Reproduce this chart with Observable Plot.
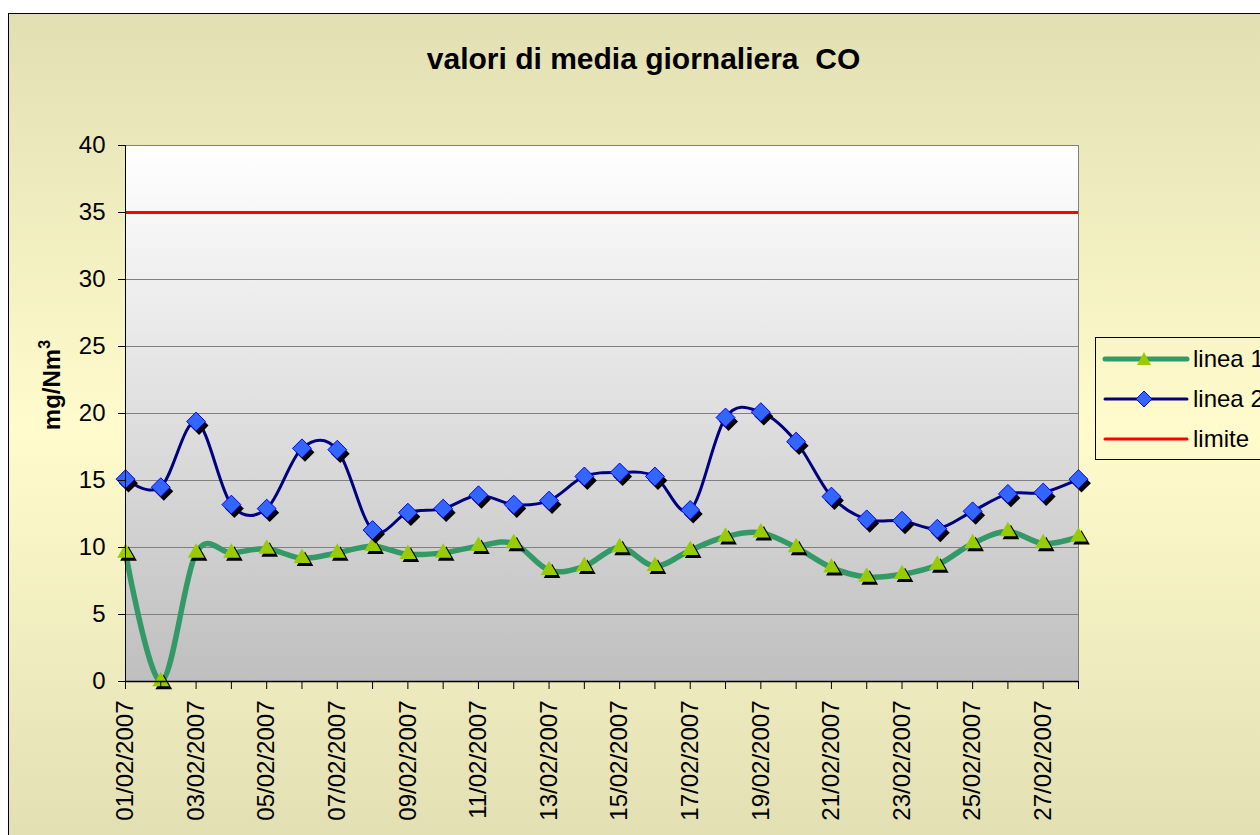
<!DOCTYPE html>
<html>
<head>
<meta charset="utf-8">
<script src="https://cdn.jsdelivr.net/npm/d3@7"></script>
<script src="https://cdn.jsdelivr.net/npm/@observablehq/plot@0.6"></script>
<style>
  html, body { margin: 0; padding: 0; background: #ffffff; overflow: hidden; }
  body { font-family: "Liberation Sans", Arial, sans-serif; }
  #wrap { position: relative; width: 1260px; height: 835px; overflow: hidden; }
  #bg { position: absolute; left: 8px; top: 13px; width: 1300px; height: 830px;
        border: 1px solid #000;
        background: linear-gradient(to bottom, #e2dfb3 0%, #fffbcc 50%, #e2dfb3 100%); }
  #gl { position: absolute; left: 32px; top: -25px; font-size: 24px; line-height: 1; }
  #title { position: absolute; left: 0; top: 44px; width: 1287px; text-align: center;
           font-weight: bold; font-size: 30px; line-height: 1; white-space: pre; }
  #ylabel { position: absolute; left: 52px; top: 385px; font-weight: bold; font-size: 24px;
            line-height: 1; white-space: nowrap; transform: translate(-50%, -50%) rotate(-90deg); }
  #ylabel sup { font-size: 16px; vertical-align: 10px; line-height: 0; }
  #chart { position: absolute; left: 0; top: 0; }
  #legend { position: absolute; left: 1095px; top: 337px; width: 200px; height: 120px;
            border: 1px solid #000; padding-top: 1px; }
  .row { display: flex; align-items: center; height: 40px; font-size: 24px; white-space: nowrap; }
  .row svg { display: block; margin-left: 6px; margin-right: 3px; }
</style>
</head>
<body>
<div id="wrap">
  <div id="bg"></div>
  <div id="gl">g</div>
  <div id="title">valori di media giornaliera  CO</div>
  <div id="ylabel">mg/Nm<sup>3</sup></div>
  <div id="chart"></div>
  <div id="legend"></div>
</div>
<script>
// ---- data ----
const dates = ["01/02/2007","02/02/2007","03/02/2007","04/02/2007","05/02/2007","06/02/2007","07/02/2007",
  "08/02/2007","09/02/2007","10/02/2007","11/02/2007","12/02/2007","13/02/2007","14/02/2007",
  "15/02/2007","16/02/2007","17/02/2007","18/02/2007","19/02/2007","20/02/2007","21/02/2007",
  "22/02/2007","23/02/2007","24/02/2007","25/02/2007","26/02/2007","27/02/2007","28/02/2007"];
const linea1 = [9.6,0.0,9.6,9.6,9.9,9.2,9.6,10.1,9.5,9.6,10.1,10.3,8.3,8.6,10.0,8.6,9.8,10.8,11.1,10.0,8.5,7.8,8.0,8.7,10.3,11.2,10.3,10.8];
const linea2 = [15.1,14.5,19.4,13.2,12.9,17.4,17.3,11.3,12.6,12.9,13.9,13.2,13.5,15.3,15.6,15.3,12.8,19.7,20.1,17.9,13.8,12.1,12.0,11.4,12.7,14.0,14.1,15.1];
const limite = 35;
const yTicks = [0,5,10,15,20,25,30,35,40];
const seriesNames = ["linea 1","linea 2","limite"];

const d1 = dates.map((d,i) => ({date: d, value: linea1[i]}));
const d2 = dates.map((d,i) => ({date: d, value: linea2[i]}));
const labelled = new Set(dates.filter((d,i) => i % 2 === 0));

const colors = {l1line: "#339966", l1mark: "#99cc00", l2line: "#000080", l2mark: "#3366ff", l2stroke: "#0000ff", lim: "#ff0000"};

const chart = Plot.plot({
  width: 1260,
  height: 835,
  marginLeft: 125,
  marginRight: 182,
  marginTop: 145,
  marginBottom: 154,
  style: {background: "transparent", fontFamily: "'Liberation Sans', Arial, sans-serif", fontSize: "24px", color: "#000", overflow: "visible"},
  x: {type: "point", domain: dates, padding: 0, round: false},
  y: {domain: [0, 40]},
  marks: [
    Plot.frame({fill: "url(#plotGrad)", stroke: "#808080"}),
    Plot.gridY(yTicks, {stroke: "#808080", strokeOpacity: 1, strokeWidth: 1}),
    Plot.ruleY([limite], {stroke: colors.lim, strokeWidth: 3}),
    Plot.line(d1, {x: "date", y: "value", curve: "cardinal", stroke: colors.l1line, strokeWidth: 5.5}),
    Plot.line(d2, {x: "date", y: "value", curve: "cardinal", stroke: colors.l2line, strokeWidth: 3}),
    Plot.dot(d1, {x: "date", y: "value", symbol: "triangle", r: 6.2, fill: "#000", dx: 3, dy: 3}),
    Plot.dot(d1, {x: "date", y: "value", symbol: "triangle", r: 6.2, fill: colors.l1mark}),
    Plot.dot(d2, {x: "date", y: "value", symbol: "diamond2", r: 8.5, fill: "#000", dx: 3, dy: 4}),
    Plot.dot(d2, {x: "date", y: "value", symbol: "diamond2", r: 8.5, fill: colors.l2mark, stroke: colors.l2stroke, strokeWidth: 1}),
    Plot.ruleX([dates[0]], {stroke: "#000", strokeWidth: 1}),
    Plot.ruleY([0], {stroke: "#000", strokeWidth: 1.5}),
    Plot.axisY(yTicks, {tickSize: 7, tickPadding: 13, label: null, fontSize: 24}),
    Plot.axisX({ticks: dates, tickSize: 8, tickPadding: 11, tickRotate: -90, label: null, fontSize: 24,
      tickFormat: d => labelled.has(d) ? d : ""})
  ]
});
document.getElementById("chart").appendChild(chart);

const svg = chart.tagName.toLowerCase() === "svg" ? chart : chart.querySelector("svg");
const ns = "http://www.w3.org/2000/svg";
const defs = document.createElementNS(ns, "defs");
defs.innerHTML = '<linearGradient id="plotGrad" x1="0" y1="0" x2="0" y2="1">' +
  '<stop offset="0" stop-color="#ffffff"/><stop offset="1" stop-color="#bfbfbf"/></linearGradient>';
svg.insertBefore(defs, svg.firstChild);

// ---- legend ----
const legend = document.getElementById("legend");
const sample = [
  {line: colors.l1line, w: 5, mark: "tri"},
  {line: colors.l2line, w: 3, mark: "dia"},
  {line: colors.lim, w: 3, mark: null}
];
seriesNames.forEach((name, i) => {
  const s = sample[i];
  const row = document.createElement("div");
  row.className = "row";
  let m = "";
  if (s.mark === "tri") m = `<path d="M42,11 L49,24 L35,24 Z" fill="${colors.l1mark}"/>`;
  if (s.mark === "dia") m = `<path d="M42,10 L50,18 L42,26 L34,18 Z" fill="${colors.l2mark}" stroke="${colors.l2stroke}" stroke-width="1"/>`;
  row.innerHTML = `<svg width="88" height="36"><line x1="3" x2="85" y1="18" y2="18" stroke="${s.line}" stroke-width="${s.w}" stroke-linecap="round"/>${m}</svg><span>${name}</span>`;
  legend.appendChild(row);
});
</script>
</body>
</html>
